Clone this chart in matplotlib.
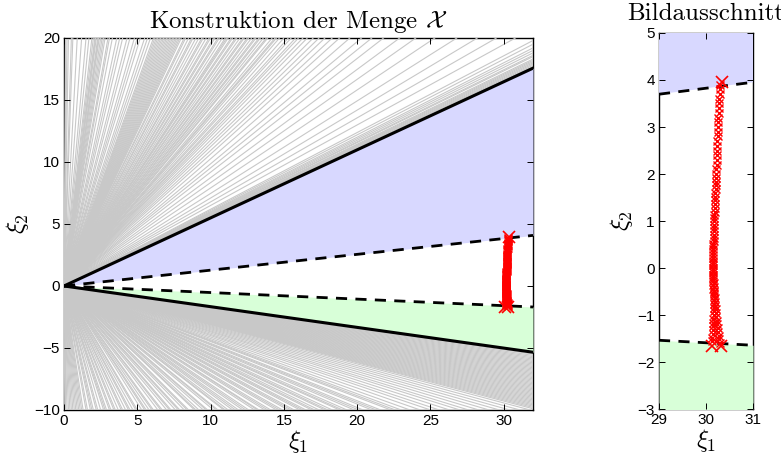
import matplotlib
matplotlib.use("Agg")
import matplotlib.pyplot as plt
import numpy as np

plt.rcParams['font.family'] = ['Liberation Sans', 'DejaVu Sans']
plt.rcParams['mathtext.fontset'] = 'cm'

# cone boundaries (slopes of rays through the origin)
slope_upper_solid = 0.549
slope_upper_dashed = 0.1275
slope_lower_dashed = -0.053
slope_lower_solid = -0.167

# grey constraint rays: where they leave the box
top_exit_x = [0.1, 0.2, 0.3, 0.5, 0.6, 0.9, 1.2, 1.5, 1.7, 1.9, 2.0, 2.1, 2.15, 2.2, 2.3,
              2.35, 2.4, 2.5, 2.6, 2.7, 2.8, 3.0, 3.1, 3.3, 3.6, 3.8, 4.0, 4.3, 4.5, 4.8,
              5.0, 5.2, 5.5, 5.7, 5.9, 6.1, 6.2, 6.3, 6.4, 6.5, 6.6, 6.7, 6.8, 6.9, 7.0,
              7.1, 7.2, 7.3, 7.4, 7.5, 7.6, 7.7, 7.8, 7.9, 8.0, 8.2, 8.3, 8.5, 8.7, 8.8,
              9.0, 9.2, 9.4, 9.5, 9.7, 9.9, 10.0, 10.2, 10.3, 10.5, 10.6, 10.8, 11.0, 11.1,
              11.2, 11.4, 11.5, 11.7, 11.8, 12.0, 12.2, 12.3, 12.5, 12.6, 12.8, 13.0, 13.1,
              13.3, 13.4, 13.6, 13.8, 13.9, 14.2, 14.4, 14.5, 14.7, 15.0, 15.3, 15.5, 15.8,
              16.0, 16.3, 16.6, 17.0, 17.4, 17.8, 18.3, 18.8, 19.5, 20.3, 21.0, 21.8, 22.9,
              24.0, 25.3, 26.8, 28.2, 29.5, 30.8]
right_exit_up_y = [19.8, 19.5, 19.2, 19.0, 18.8, 18.6, 18.5, 18.3, 18.2, 18.1, 18.0,
                   17.9, 17.8, 17.7]
bottom_exit_x = [0.05, 0.1, 0.2, 0.3, 0.4, 0.5, 0.6, 0.7, 0.8, 0.9, 1.0, 1.1, 1.2, 1.3,
                 1.5, 1.6, 1.8, 1.9, 2.0, 2.2, 2.3, 2.5, 2.7, 2.8, 2.9, 3.1, 3.2, 3.4, 3.5,
                 3.7, 3.9, 4.0, 4.2, 4.4, 4.5, 4.7, 4.9, 5.0, 5.3, 5.5, 5.6, 5.8, 6.0, 6.1,
                 6.4, 6.6, 6.7, 7.0, 7.2, 7.3, 7.6, 7.8, 7.9, 8.2, 8.4, 8.5, 8.9, 9.0, 9.2,
                 9.5, 9.7, 9.8, 10.2, 10.4, 10.5, 10.9, 11.0, 11.2, 11.5, 11.7, 11.9, 12.2,
                 12.4, 12.6, 13.0, 13.2, 13.3, 13.7, 13.9, 14.1, 14.5, 14.7, 14.9, 15.3,
                 15.5, 15.7, 16.1, 16.3, 16.5, 16.9, 17.1, 17.4, 17.8, 18.0, 18.3, 18.8,
                 19.0, 19.3, 19.8, 20.1, 20.4, 21.0, 21.3, 21.6, 22.3, 22.6, 23.0, 23.6,
                 24.3, 25.0, 25.6, 26.3, 27.0, 27.6, 28.3, 29.0, 29.7, 30.4, 31.1, 31.8]
right_exit_down_y = [-9.9, -9.8, -9.7, -9.6, -9.5, -9.4, -9.3, -9.2, -9.1, -9.0, -8.9,
                     -8.8, -8.7, -8.6, -8.5, -8.4, -8.3, -8.2, -8.1, -8.0, -7.9, -7.8,
                     -7.7, -7.6, -7.5, -7.4, -7.3, -7.2, -7.1, -7.0, -6.9, -6.8, -6.7,
                     -6.6, -6.5, -6.4, -6.3, -6.2, -6.1, -6.0, -5.9, -5.8, -5.7, -5.6,
                     -5.5, -5.4]

# red iterates
track_y = [3.90, 3.80, 3.70, 3.60, 3.50, 3.40, 3.30, 3.20, 3.10, 3.00, 2.90, 2.80, 2.70,
           2.60, 2.50, 2.40, 2.30, 2.20, 2.10, 2.00,
           1.92, 1.84, 1.76, 1.68, 1.60, 1.52, 1.44, 1.36, 1.28, 1.20,
           1.13, 1.06, 0.99, 0.92, 0.85, 0.78, 0.71,
           0.64, 0.58, 0.52, 0.46, 0.40, 0.34, 0.28, 0.22, 0.16,
           0.11, 0.06, 0.01, -0.04, -0.09, -0.14, -0.19, -0.24,
           -0.28, -0.32, -0.36, -0.40, -0.44, -0.48, -0.52, -0.56, -0.60, -0.64, -0.68,
           -0.72, -0.76, -0.80, -0.84, -0.88, -0.92, -0.96, -1.00, -1.04, -1.08, -1.12,
           -1.16, -1.20, -1.24, -1.28, -1.32, -1.36, -1.40, -1.44, -1.48, -1.52, -1.56, -1.60]
track_x = [30.30, 30.29, 30.29, 30.28, 30.28, 30.27, 30.27, 30.26, 30.26, 30.25, 30.25,
           30.25, 30.24, 30.24, 30.24, 30.23, 30.23, 30.23, 30.22, 30.22,
           30.22, 30.21, 30.21, 30.21, 30.20, 30.20, 30.20, 30.19, 30.19, 30.19,
           30.18, 30.18, 30.18, 30.17, 30.17, 30.17, 30.16,
           30.16, 30.16, 30.15, 30.15, 30.15, 30.15, 30.14, 30.14, 30.14,
           30.14, 30.14, 30.14, 30.14, 30.14, 30.15, 30.15, 30.15,
           30.15, 30.16, 30.15, 30.17, 30.15, 30.18, 30.16, 30.18, 30.16, 30.19, 30.16,
           30.20, 30.16, 30.20, 30.16, 30.21, 30.16, 30.22, 30.16, 30.22, 30.15, 30.23,
           30.15, 30.24, 30.15, 30.25, 30.14, 30.26, 30.14, 30.27, 30.13, 30.28, 30.13, 30.29]
end_x = [30.33, 30.12, 30.32]
end_y = [3.95, -1.66, -1.66]

blue = '#d8d8ff'
green = '#d8ffd8'
grey = '#c8c8c8'


def draw_cone(ax, x0, x1):
    xs = np.array([x0, x1])
    ax.fill_between(xs, slope_upper_dashed * xs, slope_upper_solid * xs,
                    color=blue, lw=0, zorder=1)
    ax.fill_between(xs, slope_lower_solid * xs, slope_lower_dashed * xs,
                    color=green, lw=0, zorder=1)
    ax.plot(xs, slope_upper_solid * xs, 'k-', lw=2.2, zorder=3)
    ax.plot(xs, slope_lower_solid * xs, 'k-', lw=2.2, zorder=3)
    ax.plot(xs, slope_upper_dashed * xs, 'k--', lw=2, dashes=(4, 3), zorder=3)
    ax.plot(xs, slope_lower_dashed * xs, 'k--', lw=2, dashes=(4, 3), zorder=3)
    ax.plot(track_x, track_y, 'rx', ms=6, mew=1, zorder=4)
    ax.plot(end_x, end_y, 'rx', ms=9, mew=1.2, zorder=4)


def style(ax):
    ax.tick_params(direction='in', top=True, right=True, length=4, width=0.7,
                   labelsize=11, pad=3)
    for sp in ax.spines.values():
        sp.set_zorder(0.5)
        sp.set_linewidth(1.0)


fig = plt.figure(figsize=(7.81, 4.55), dpi=100)

# main view
ax = fig.add_axes([0.082, 0.099, 0.6005, 0.8175])
for tx in top_exit_x:
    ax.plot([0, tx], [0, 20], color=grey, lw=0.8, zorder=1.5)
for ry in right_exit_up_y:
    ax.plot([0, 32], [0, ry], color=grey, lw=0.8, zorder=1.5)
for bx in bottom_exit_x:
    ax.plot([0, bx], [0, -10], color=grey, lw=0.8, zorder=1.5)
for ry in right_exit_down_y:
    ax.plot([0, 32], [0, ry], color=grey, lw=0.8, zorder=1.5)
draw_cone(ax, 0, 32)
ax.set_xlim(0, 32)
ax.set_ylim(-10, 20)
ax.set_xticks([0, 5, 10, 15, 20, 25, 30])
ax.set_yticks([-10, -5, 0, 5, 10, 15, 20])
style(ax)
ax.set_title(r'Konstruktion der Menge $\mathcal{X}$', fontfamily='cmr10',
             fontsize=18, pad=7)
ax.set_xlabel(r'$\xi_1$', fontsize=18, labelpad=0)
ax.set_ylabel(r'$\xi_2$', fontsize=18, labelpad=2)

# zoomed view
ax2 = fig.add_axes([0.8438, 0.101, 0.1204, 0.8265])
draw_cone(ax2, 29, 31)
ax2.set_xlim(29, 31)
ax2.set_ylim(-3, 5)
ax2.set_xticks([29, 30, 31])
ax2.set_yticks([-3, -2, -1, 0, 1, 2, 3, 4, 5])
style(ax2)
ax2.set_title('Bildausschnitt', fontfamily='cmr10', fontsize=18, pad=9)
ax2.set_xlabel(r'$\xi_1$', fontsize=18, labelpad=0)
ax2.set_ylabel(r'$\xi_2$', fontsize=18, labelpad=2)

fig.savefig('out.png', dpi=100)
